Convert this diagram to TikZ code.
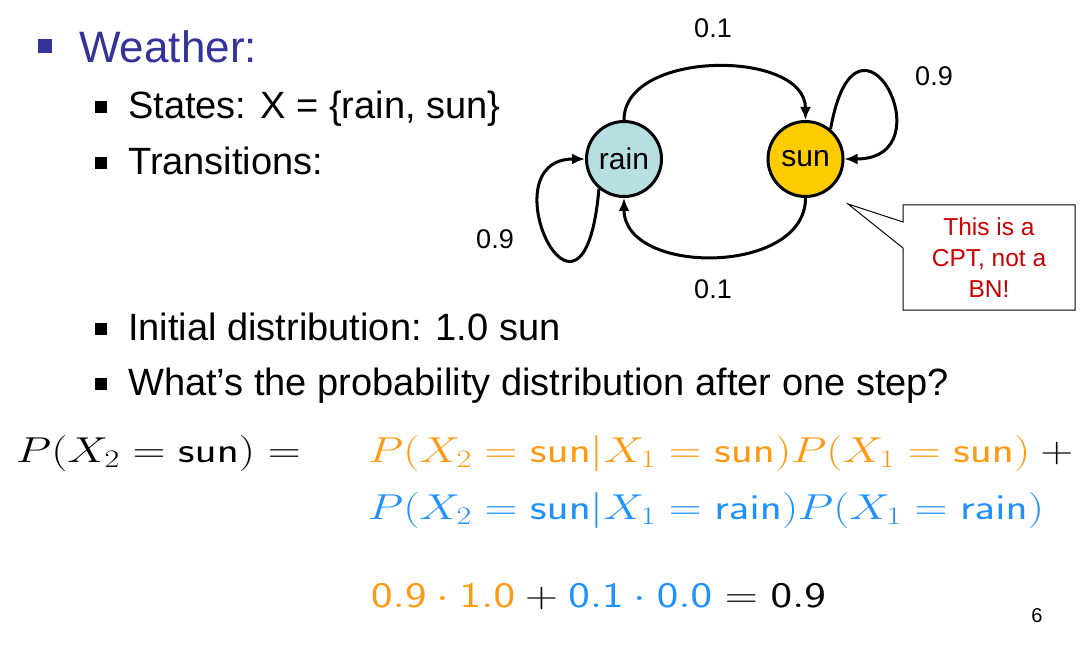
\RequirePackage{fix-cm}
\documentclass[tikz,border=0pt]{standalone}
\usepackage{graphicx}
\usepackage[no-math]{fontspec}
\setmainfont{Liberation Sans}
\usetikzlibrary{arrows.meta}

\definecolor{titleblue}{RGB}{51,51,153}
\definecolor{rainfill}{RGB}{183,222,224}
\definecolor{sunfill}{RGB}{255,204,0}
\definecolor{termorange}{RGB}{255,153,18}
\definecolor{termblue}{RGB}{30,144,255}
\definecolor{notered}{RGB}{204,0,0}

% Formulas are set a bit wider than the math font
\newcommand{\wideeq}[1]{\scalebox{1.27}[1]{$#1$}}

\begin{document}
\begin{tikzpicture}[x=1pt,y=1pt,
  wstate/.style={circle, draw, line width=3pt, minimum size=75pt, inner sep=0pt,
    font=\fontsize{30}{32}\selectfont},
  trans/.style={line width=3pt, -{Latex[length=13pt,width=11pt]}},
  prob/.style={anchor=base, inner sep=0pt, font=\fontsize{27}{30}\selectfont},
  sqbullet/.style={fill, inner sep=0pt, minimum size=12pt},
  itemtext/.style={anchor=base west, inner sep=0pt, font=\fontsize{38}{44}\selectfont},
  eqn/.style={anchor=base west, inner sep=0pt, font=\fontsize{36}{44}\selectfont}]

% Page size
\useasboundingbox (0,0) rectangle (1092,-647);

% Bullet list
\node[sqbullet, fill=titleblue, minimum size=14pt] (b0) at (45,-46.5) {};
\node[itemtext, text=titleblue, font=\fontsize{44}{50}\selectfont] (weather) at (79,-63) {Weather:};
\node[sqbullet] (b1) at (101,-107.5) {};
\node[itemtext] (states) at (128,-119) {States: X = \{rain, sun\}};
\node[sqbullet] (b2) at (101,-163.5) {};
\node[itemtext] (transitions) at (128,-175) {Transitions:};
\node[sqbullet] (b3) at (101,-328.5) {};
\node[itemtext] (init) at (128,-340) {Initial distribution: 1.0 sun};
\node[sqbullet] (b4) at (101,-383.5) {};
\node[itemtext] (question) at (128,-395) {What’s the probability distribution after one step?};

% The two states
\node[wstate, fill=rainfill] (rain) at (624,-159) {rain};
\node[wstate, fill=sunfill] (sun) at (805.5,-159) {sun};

% Transitions between the states
\draw[trans] (rain.north) to[out=90,in=90,looseness=1] (sun.north);
\draw[trans] (sun.south) to[out=-90,in=-90,looseness=1.1] (rain.south);
\draw[trans] (rain.230) to[out=265,in=180,out distance=180pt,in distance=100pt] (rain.west);
\draw[trans] (sun.50) to[out=80,in=0,out distance=150pt,in distance=105pt] (sun.east);

% Transition probabilities
\node[prob] (p12) at (713,-38) {0.1};
\node[prob] (p21) at (713,-298) {0.1};
\node[prob] (p11) at (495,-248) {0.9};
\node[prob] (p22) at (934,-86) {0.9};

% Callout
\coordinate (tip) at (848,-204);
\draw[line width=1pt, fill=white] (903,-205) -- (1075,-205) -- (1075,-310) -- (903,-310)
  -- (903,-248) -- (tip) -- (903,-222) -- cycle;
\node[align=center, text=notered, font=\fontsize{24.5}{31}\selectfont] (note) at (989,-258)
  {This is a\\CPT, not a\\BN!};

% Computation
\node[eqn] (lhs) at (16,-462) {\wideeq{P(X_2=\mathsf{sun}) =}};
\node[eqn] (line1) at (368,-462)
  {\wideeq{{\color{termorange}P(X_2=\mathsf{sun}|X_1=\mathsf{sun})P(X_1=\mathsf{sun})}+{}}};
\node[eqn] (line2) at (368,-519)
  {\wideeq{{\color{termblue}P(X_2=\mathsf{sun}|X_1=\mathsf{rain})P(X_1=\mathsf{rain})}}};
\node[eqn] (result) at (371,-607)
  {\wideeq{{\color{termorange}\mathsf{0.9}\cdot\mathsf{1.0}}+{\color{termblue}\mathsf{0.1}\cdot\mathsf{0.0}}=\mathsf{0.9}}};

% Page number
\node[anchor=base, font=\fontsize{20}{24}\selectfont] (page) at (1037,-622) {6};

\end{tikzpicture}
\end{document}
